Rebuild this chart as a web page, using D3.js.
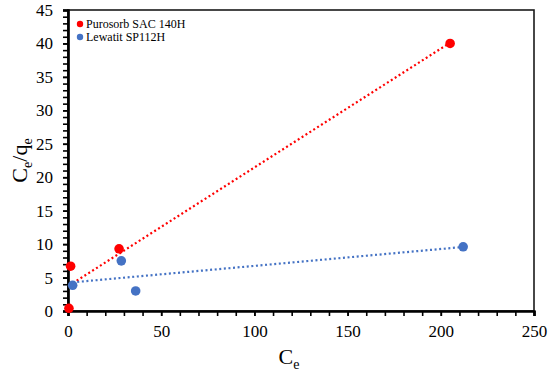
<!DOCTYPE html>
<html>
<head>
<meta charset="utf-8">
<script src="https://cdn.jsdelivr.net/npm/d3@7"></script>
<style>
  body { margin: 0; background: #fff; }
  svg text { font-family: "Liberation Serif", "Times New Roman", "DejaVu Serif", serif !important; }
</style>
</head>
<body>
<div id="wrapper"></div>
<script>
// data
const seriesNames = ["Purosorb SAC 140H", "Lewatit SP112H"]
const seriesColors = ["#ff0000", "#4472c4"]
const purosorbCe = [0.5, 1.4, 27.4, 205]
const purosorbRatio = [0.4, 6.7, 9.3, 40]
const lewatitCe = [2.5, 28.6, 36.3, 212]
const lewatitRatio = [3.84, 7.5, 3.0, 9.6]
const xTicks = [0, 50, 100, 150, 200, 250]
const yTicks = [0, 5, 10, 15, 20, 25, 30, 35, 40, 45]

const serif = "'Liberation Serif', 'Times New Roman', serif"

function drawChart() {
  let dimensions = {
    width: 550,
    height: 371,
    margin: { top: 10, right: 16, bottom: 60, left: 68 }
  }
  dimensions.boundedWidth = dimensions.width - dimensions.margin.left - dimensions.margin.right
  dimensions.boundedHeight = dimensions.height - dimensions.margin.top - dimensions.margin.bottom

  const series = [
    { name: seriesNames[0], color: seriesColors[0], points: purosorbCe.map((x, i) => ({ x, y: purosorbRatio[i] })) },
    { name: seriesNames[1], color: seriesColors[1], points: lewatitCe.map((x, i) => ({ x, y: lewatitRatio[i] })) }
  ]

  const xScale = d3.scaleLinear().domain([0, 250]).range([0, dimensions.boundedWidth])
  const yScale = d3.scaleLinear().domain([0, 45]).range([dimensions.boundedHeight, 0])

  const svg = d3.select("#wrapper").append("svg")
    .attr("width", dimensions.width)
    .attr("height", dimensions.height)
    .attr("font-family", serif)

  const bounds = svg.append("g")
    .attr("transform", `translate(${dimensions.margin.left},${dimensions.margin.top})`)

  // box
  bounds.append("rect")
    .attr("width", dimensions.boundedWidth)
    .attr("height", dimensions.boundedHeight)
    .attr("fill", "none")
    .attr("stroke", "#1a1a1a")
    .attr("stroke-width", 1.6)

  // axes: minor ticks then majors with labels
  const xMinor = bounds.append("g")
    .attr("transform", `translate(0,${dimensions.boundedHeight})`)
    .call(d3.axisBottom(xScale).ticks(25).tickSize(5).tickFormat(""))
  const xAxis = bounds.append("g")
    .attr("transform", `translate(0,${dimensions.boundedHeight})`)
    .call(d3.axisBottom(xScale).tickValues(xTicks).tickSize(5).tickPadding(9))
  const yMinor = bounds.append("g")
    .call(d3.axisLeft(yScale).ticks(45).tickSize(5).tickFormat(""))
  const yAxis = bounds.append("g")
    .call(d3.axisLeft(yScale).tickValues(yTicks).tickSize(5).tickPadding(10))

  ;[xMinor, xAxis, yMinor, yAxis].forEach(g => {
    g.attr("font-family", serif).attr("font-size", 17)
    g.select(".domain").attr("stroke", "#000").attr("stroke-width", 2.2)
    g.selectAll(".tick line").attr("stroke", "#000").attr("stroke-width", 1.6)
    g.selectAll("text").attr("fill", "#000")
  })

  // linear trendlines (least squares, like the spreadsheet)
  series.forEach(s => {
    const mx = d3.mean(s.points, d => d.x)
    const my = d3.mean(s.points, d => d.y)
    const slope = d3.sum(s.points, d => (d.x - mx) * (d.y - my)) / d3.sum(s.points, d => (d.x - mx) ** 2)
    const intercept = my - slope * mx
    const [x0, x1] = d3.extent(s.points, d => d.x)
    bounds.append("line")
      .attr("x1", xScale(x0))
      .attr("y1", yScale(intercept + slope * x0))
      .attr("x2", xScale(x1))
      .attr("y2", yScale(intercept + slope * x1))
      .attr("stroke", s.color)
      .attr("stroke-width", 2.2)
      .attr("stroke-dasharray", "2 2.6")
  })

  // points
  series.forEach(s => {
    bounds.selectAll(null)
      .data(s.points)
      .join("circle")
      .attr("cx", d => xScale(d.x))
      .attr("cy", d => yScale(d.y))
      .attr("r", 4.8)
      .attr("fill", s.color)
  })

  // legend
  const legend = bounds.append("g").attr("transform", "translate(12,14)")
  series.forEach((s, i) => {
    const row = legend.append("g").attr("transform", `translate(0,${i * 13})`)
    row.append("circle").attr("r", 3.2).attr("fill", s.color)
    row.append("text")
      .attr("x", 6)
      .attr("dy", "0.35em")
      .attr("font-size", 12)
      .text(s.name)
  })

  // axis titles
  const xTitle = svg.append("text")
    .attr("x", 289)
    .attr("y", 364)
    .attr("text-anchor", "middle")
    .attr("font-size", 22)
  xTitle.append("tspan").text("C")
  xTitle.append("tspan").attr("dy", 5).attr("font-size", 14).text("e")

  const yTitle = svg.append("text")
    .attr("transform", `translate(27,${dimensions.margin.top + dimensions.boundedHeight / 2}) rotate(-90)`)
    .attr("text-anchor", "middle")
    .attr("font-size", 22)
  yTitle.append("tspan").text("C")
  yTitle.append("tspan").attr("dy", 5).attr("font-size", 14).text("e")
  yTitle.append("tspan").attr("dy", -5).text("/q")
  yTitle.append("tspan").attr("dy", 5).attr("font-size", 14).text("e")
}
drawChart()
</script>
</body>
</html>
